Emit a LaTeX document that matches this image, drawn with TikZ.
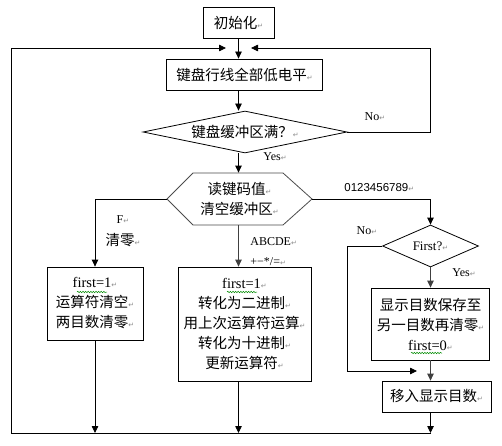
\documentclass[tikz,border=0pt]{standalone}
\usepackage{fontspec}
\setmainfont{Liberation Serif}
\newfontfamily\cjk{Noto Sans CJK SC}
\newfontfamily\dvs{DejaVu Sans}
\newfontfamily\digs{Liberation Sans}
\usetikzlibrary{arrows.meta,shapes.geometric,decorations.pathmorphing}
\newcommand\rmk{{\dvs\fontsize{7}{7}\selectfont\textcolor{black!45}{↵}}}
\begin{document}
\begin{tikzpicture}[x=1pt,y=1pt,
  >={Triangle[length=7pt,width=6.5pt]},
  every path/.style={line width=0.8pt},
  cjkfont/.style={font=\cjk\fontsize{14.5}{20}\selectfont},
  box/.style={draw,cjkfont,align=center,inner sep=0pt},
  dia/.style={diamond,draw,cjkfont,align=center,inner sep=0pt},
  lbl/.style={font=\rmfamily\fontsize{12}{12}\selectfont,inner sep=1pt},
  cjklbl/.style={cjkfont,inner sep=1pt},
  dig/.style={font=\digs\fontsize{11.5}{12}\selectfont,inner sep=1pt},
  wavy/.style={draw=green!55!black,line width=0.5pt,decorate,decoration={snake,amplitude=0.7pt,segment length=2.6pt}}]
\useasboundingbox (0,0) rectangle (502,445);
\fill[white] (0,0) rectangle (502,445);

% nodes
\node[box,minimum width=71,minimum height=31] (init) at (238.5,422.5) {初始化\rmk};
\node[box,minimum width=156,minimum height=31] (scan) at (244.5,370.5) {键盘行线全部低电平\rmk};
\node[dia,minimum width=204,minimum height=42,aspect=4.86] (full) at (245,313) {键盘缓冲区满？\rmk};
\draw[black!70] (167,246) -- (193,272) -- (283,272) -- (312,246) -- (283,220) -- (193,220) -- cycle;
\node[cjkfont,align=center,inner sep=0pt,minimum width=145,minimum height=52] (hex) at (239.5,246) {读键码值\rmk\\清空缓冲区\rmk};
\node[box,minimum width=96,minimum height=73] (lbox) at (95,141.5) {{\rmfamily first=1\rmk}\\运算符清空\rmk\\两目数清零\rmk};
\node[box,minimum width=133,minimum height=114] (mbox) at (244.5,121) {{\rmfamily first=1\rmk}\\转化为二进制\rmk\\用上次运算符运算\rmk\\转化为十进制\rmk\\更新运算符\rmk};
\node[dia,minimum width=96,minimum height=42,aspect=2.3,font=\rmfamily\fontsize{13}{13}\selectfont] (firstq) at (430.5,199) {First?\rmk};
\node[box,minimum width=118,minimum height=72] (save) at (430.5,121) {显示目数保存至\\另一目数再清零\rmk\\{\rmfamily first=0\rmk}};
\node[box,minimum width=109,minimum height=31] (move) at (436.5,48.5) {移入显示目数\rmk};

% labels
\node[lbl] (lno1) at (375,328) {No\rmk};
\node[lbl] (lyes1) at (275,288) {Yes\rmk};
\node[lbl] (lF) at (123,225) {F\rmk};
\node[cjklbl] (lclr) at (123,205) {清零\rmk};
\node[lbl,anchor=west] (labc) at (249,203) {ABCDE\rmk};
\node[lbl,anchor=west] (lops) at (249,183) {+−*/=\rmk};
\node[dig,anchor=west] (ldig) at (343,257) {0123456789\rmk};
\node[lbl] (lno2) at (367,214) {No\rmk};
\node[lbl] (lyes2) at (464,172) {Yes\rmk};

% coordinates
\coordinate (bl) at (11,12);
\coordinate (br) at (431,12);
\coordinate (tl) at (11,397);
\coordinate (lin) at (226,397);
\coordinate (rt) at (430,397);
\coordinate (rb) at (430,313);
\coordinate (rin) at (251,397);
\coordinate (nol) at (347,199);
\coordinate (nob) at (347,74);
\coordinate (noin) at (417,74);

% connectors
\draw[->] (init) -- (init |- scan.north);
\draw[->] (scan.south -| init) -- (init |- full.north);
\draw[->] (full.south -| init) -- (init |- hex.north);
\draw (full.east) -- (rb) -- (rt);
\draw[->] (rt) -- (rin);
\draw[->] (br) -- (bl) -- (tl) -- (lin);
\draw[->] (hex.west) -| (lbox.north);
\draw[->,black!75] (hex.south -| init) -- (init |- mbox.north);
\draw[->] (hex.east) -| (firstq.north);
\draw[->,black!75] (firstq.south) -- (firstq |- save.north);
\draw (firstq.west) -- (nol) -- (nob);
\draw[->] (nob) -- (noin);
\draw[->,black!75] (save.south) -- (save |- move.north);
\draw[->] (move.south -| save) -- (save |- bl);
\draw[->] (lbox.south) -- (lbox.south |- bl);
\draw[->] (mbox.south -| init) -- (init |- bl);

% spell-check underlines
\draw[wavy] (77,153) -- (107,153);
\draw[wavy] (227,153) -- (257,153);
\draw[wavy] (411,92) -- (442,92);
\end{tikzpicture}
\end{document}
